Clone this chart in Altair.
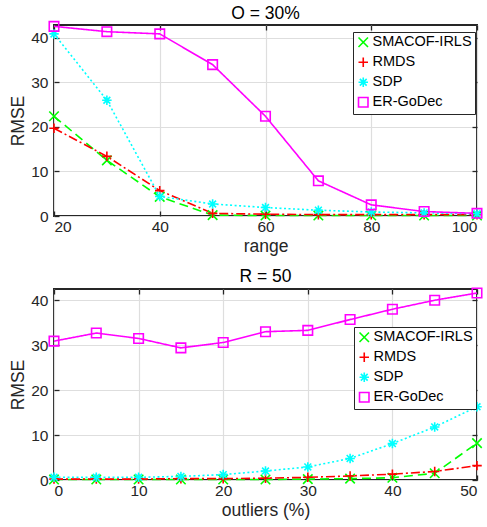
import altair as alt
import pandas as pd

methods = ["SMACOF-IRLS", "RMDS", "SDP", "ER-GoDec"]
colors = ["#00ff00", "#ff0000", "#00ffff", "#ff00ff"]
shapes = [
    "M-1,-1L1,1M-1,1L1,-1",
    "M-1,0L1,0M0,-1L0,1",
    "M-1,0L1,0M0,-1L0,1M-0.72,-0.72L0.72,0.72M-0.72,0.72L0.72,-0.72",
    "square",
]
dashes = [[9, 5], [9, 3, 2, 3], [2, 2.5], [1, 0]]

# Top panel: O = 30%
range_x = [20, 30, 40, 50, 60, 70, 80, 90, 100]
top_smacof = [22.4, 12.5, 4.3, 0.2, 0.1, 0.1, 0.1, 0.1, 0.1]
top_rmds = [19.7, 13.4, 5.7, 0.6, 0.4, 0.3, 0.3, 0.3, 0.3]
top_sdp = [40.9, 26.0, 4.4, 2.7, 1.9, 1.3, 0.9, 0.7, 0.5]
top_ergodec = [42.6, 41.4, 40.9, 34.0, 22.4, 7.9, 2.5, 1.0, 0.6]

# Bottom panel: R = 50
outliers_x = [0, 5, 10, 15, 20, 25, 30, 35, 40, 45, 50]
bot_smacof = [0.1, 0.1, 0.1, 0.1, 0.1, 0.1, 0.2, 0.3, 0.5, 1.5, 8.2]
bot_rmds = [0.2, 0.2, 0.2, 0.3, 0.3, 0.4, 0.6, 0.9, 1.3, 1.9, 3.2]
bot_sdp = [0.6, 0.6, 0.6, 0.8, 1.2, 2.0, 2.9, 4.8, 8.1, 11.8, 16.3]
bot_ergodec = [30.9, 32.7, 31.5, 29.4, 30.6, 33.0, 33.3, 35.7, 38.0, 40.0, 41.6]
y_ticks = [0, 10, 20, 30, 40]


def make_df(xs, series):
    rows = []
    for m, vals in zip(methods, series):
        for x, v in zip(xs, vals):
            rows.append({"x": x, "RMSE": v, "method": m})
    return pd.DataFrame(rows)


df_top = make_df(range_x, [top_smacof, top_rmds, top_sdp, top_ergodec])
df_bot = make_df(outliers_x, [bot_smacof, bot_rmds, bot_sdp, bot_ergodec])

FONT = "Liberation Sans"
TXT = "#262626"
W, H = 423, 191


def tick_axis(orient, values):
    return alt.Axis(orient=orient, values=values, offset=-5, tickSize=5, ticks=True, tickColor=TXT,
                    tickWidth=1.3, labels=False, grid=False, domain=False, title=None)


def panel(df, xdom, xticks, xtitle, ydom, title, toff, lx, ly):
    xs = alt.Scale(domain=xdom, nice=False, zero=False)
    ys = alt.Scale(domain=ydom, nice=False, zero=False)
    leg = alt.Legend(orient="none", legendX=lx, legendY=ly, title=None,
                     fillColor="white", strokeColor=TXT, padding=3,
                     labelFontSize=14.5, labelFont=FONT, labelColor="black",
                     symbolSize=90, symbolStrokeWidth=1.6, rowPadding=3, labelOffset=2)
    color = alt.Color("method:N", scale=alt.Scale(domain=methods, range=colors), legend=leg)
    shape = alt.Shape("method:N", scale=alt.Scale(domain=methods, range=shapes), legend=leg)

    x_main = alt.X("x:Q", scale=xs, axis=alt.Axis(
        orient="bottom", values=xticks, title=xtitle, grid=True, ticks=True, tickSize=5, tickColor=TXT,
        tickWidth=1.3, offset=-5, domain=False, labelPadding=3, titlePadding=3,
        labelFontSize=15.5, titleFontSize=17.5, labelColor=TXT, titleColor=TXT,
        titleFontWeight="normal", gridColor="#dedede", gridWidth=1.2))
    y_main = alt.Y("RMSE:Q", scale=ys, axis=alt.Axis(
        orient="left", values=y_ticks, title="RMSE", grid=True, ticks=True, tickSize=5, tickColor=TXT,
        tickWidth=1.3, offset=-5, domain=False, labelPadding=6, titlePadding=3,
        labelFontSize=15.5, titleFontSize=17.5, labelColor=TXT, titleColor=TXT,
        titleFontWeight="normal", gridColor="#dedede", gridWidth=1.2))

    layers = []
    for i, (m, c, d) in enumerate(zip(methods, colors, dashes)):
        enc_x = x_main if i == 0 else alt.X("x:Q", scale=xs, axis=None)
        enc_y = y_main if i == 0 else alt.Y("RMSE:Q", scale=ys, axis=None)
        layers.append(
            alt.Chart(df).transform_filter(alt.datum.method == m)
            .mark_line(color=c, strokeDash=d, strokeWidth=1.6)
            .encode(x=enc_x, y=enc_y)
        )

    ghost = alt.Chart(df).mark_point(opacity=0).encode(
        x=alt.X("x:Q", scale=xs, axis=tick_axis("top", xticks)),
        y=alt.Y("RMSE:Q", scale=ys, axis=tick_axis("right", y_ticks)),
    )
    points = alt.Chart(df).mark_point(filled=False, size=90, strokeWidth=1.6, opacity=1).encode(
        x=alt.X("x:Q", scale=xs, axis=None), y=alt.Y("RMSE:Q", scale=ys, axis=None),
        color=color, shape=shape,
    )

    return alt.layer(*layers, ghost, points).resolve_axis(x="independent", y="independent").properties(
        width=W, height=H,
        title=alt.TitleParams(title, fontSize=17.5, font=FONT, fontWeight="normal", color="black",
                              offset=toff),
    )


top = panel(df_top, [20, 100], [20, 40, 60, 80, 100], "range", [0, 42.9], "O = 30%", -4, 299, 7)
bot = panel(df_bot, [0, 50], [0, 10, 20, 30, 40, 50], "outliers (%)", [0, 42.5], "R = 50", 0, 300, 38)

chart = alt.vconcat(top, bot, spacing=10).resolve_scale(
    color="independent", shape="independent"
).properties(
    padding={"left": 8, "top": 3, "right": 0, "bottom": 0}
).configure(font=FONT).configure_view(stroke=TXT, strokeWidth=2)

chart.save("out.html", embed_options={"renderer": "svg", "actions": False})
